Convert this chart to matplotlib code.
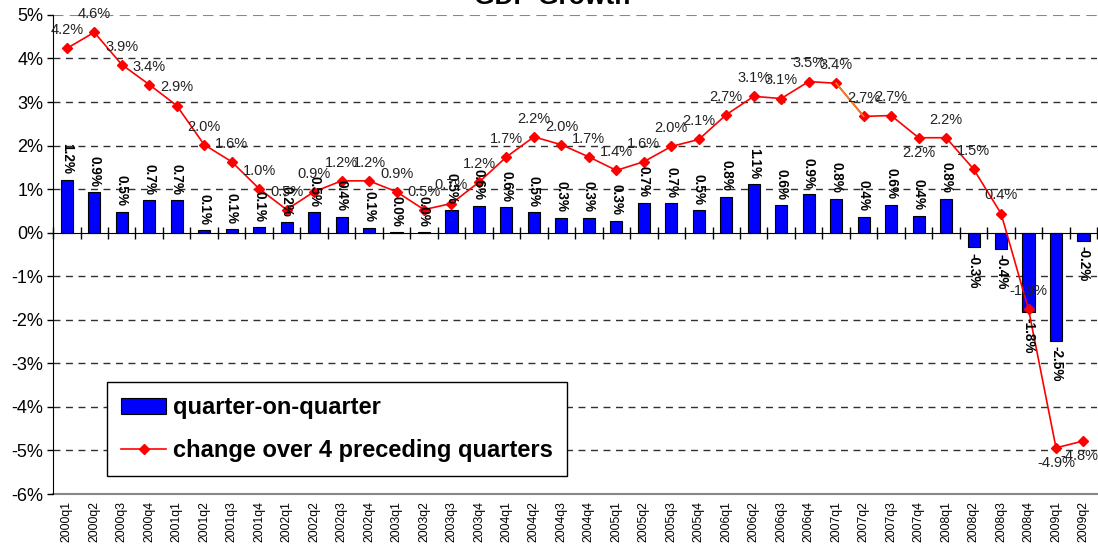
import numpy as np
import matplotlib.pyplot as plt

plt.rcParams['font.family'] = ['Liberation Sans', 'DejaVu Sans']

# Quarters 2000q1 .. 2009q2
quarters = ['2000q1', '2000q2', '2000q3', '2000q4',
            '2001q1', '2001q2', '2001q3', '2001q4',
            '2002q1', '2002q2', '2002q3', '2002q4',
            '2003q1', '2003q2', '2003q3', '2003q4',
            '2004q1', '2004q2', '2004q3', '2004q4',
            '2005q1', '2005q2', '2005q3', '2005q4',
            '2006q1', '2006q2', '2006q3', '2006q4',
            '2007q1', '2007q2', '2007q3', '2007q4',
            '2008q1', '2008q2', '2008q3', '2008q4',
            '2009q1', '2009q2']

# quarter-on-quarter growth (%)
qoq = [1.21, 0.93, 0.48, 0.74, 0.74, 0.06, 0.08, 0.12,
       0.24, 0.47, 0.36, 0.11, 0.01, 0.01, 0.53, 0.62,
       0.58, 0.47, 0.34, 0.34, 0.27, 0.69, 0.68, 0.51,
       0.83, 1.11, 0.63, 0.88, 0.78, 0.37, 0.64, 0.39,
       0.78, -0.33, -0.37, -1.82, -2.48, -0.18]

# change over 4 preceding quarters (%)
yoy = [4.23, 4.60, 3.86, 3.40, 2.92, 2.02, 1.63, 1.01,
       0.53, 0.94, 1.19, 1.19, 0.94, 0.53, 0.67, 1.16,
       1.74, 2.20, 2.02, 1.74, 1.43, 1.63, 1.98, 2.14,
       2.71, 3.13, 3.08, 3.47, 3.43, 2.67, 2.69, 2.18,
       2.18, 1.46, 0.44, -1.76, -4.94, -4.78]

# labels that sit below the point instead of above
below = ['2007q4', '2009q1', '2009q2']

x = np.arange(len(quarters))

fig = plt.figure(figsize=(10.98, 5.52), dpi=100)
ax = fig.add_axes([0.0483, 0.105, 0.951, 0.868])

# gridlines
for v in range(-5, 5):
    if v != 0:
        ax.axhline(v, color='#303030', lw=1, ls=(0, (5, 4)), zorder=0)
ax.axhline(5, color='#888888', lw=1.5, ls=(0, (5, 3)), zorder=0)

bars = ax.bar(x, qoq, width=0.44, color='#0000ff', edgecolor='black',
              linewidth=0.8, zorder=2, label='quarter-on-quarter')
line, = ax.plot(x, yoy, color='#ff0000', lw=1.2, marker='D', markersize=5,
                zorder=3, label='change over 4 preceding quarters')
ax.plot(x[28:30], yoy[28:30], color='#f08020', lw=1.2, zorder=3)

# bar labels (bold, rotated)
for i, v in enumerate(qoq):
    ax.annotate(f'{v:.1f}%', (i, v), xytext=(0, 4 if v >= 0 else -4),
                textcoords='offset points', rotation=270, ha='center',
                va='bottom' if v >= 0 else 'top', fontsize=9.8,
                fontweight='bold', zorder=4)

# line labels
for i, v in enumerate(yoy):
    dy = -11 if quarters[i] in below else 13
    dx = -3 if quarters[i] == '2009q2' else 0
    ax.annotate(f'{v:.1f}%', (i, v), xytext=(dx, dy),
                textcoords='offset points', ha='center', va='center',
                fontsize=10.5, color='#222222', zorder=4)

ax.set_xlim(-0.5, len(quarters) - 0.5)
ax.set_ylim(-6, 5)
ax.set_yticks(range(-6, 6))
ax.set_yticklabels([f'{v}%' for v in range(-6, 6)])
ax.tick_params(axis='y', direction='out', length=4, width=1, pad=3,
               labelsize=13)

# zero axis with ticks between categories
ax.spines['bottom'].set_position(('data', 0))
ax.set_xticks(np.arange(-0.5, len(quarters), 1))
ax.tick_params(axis='x', direction='inout', length=8, width=1,
               labelbottom=False)
ax.spines['top'].set_visible(False)
ax.spines['right'].set_visible(False)

sec = ax.secondary_xaxis('bottom')
sec.set_xticks(x)
sec.set_xticklabels(quarters, rotation=90, fontsize=8.8)
sec.tick_params(length=0, pad=5)
sec.spines['bottom'].set_color('#888888')
sec.spines['bottom'].set_linewidth(1.5)

leg = ax.legend(handles=[bars, line], loc='upper left',
                bbox_to_anchor=(0.052, 0.234), borderaxespad=0,
                prop={'weight': 'bold', 'size': 17}, frameon=True,
                fancybox=False, edgecolor='black', framealpha=1,
                handlelength=1.9, handletextpad=0.3, labelspacing=0.85,
                borderpad=0.6)
leg.get_frame().set_linewidth(1)

fig.text(0.503, 1 - 4 / 552, 'GDP Growth', ha='center', va='baseline',
         fontsize=19, fontweight='bold')

fig.savefig('out.png', dpi=100)
